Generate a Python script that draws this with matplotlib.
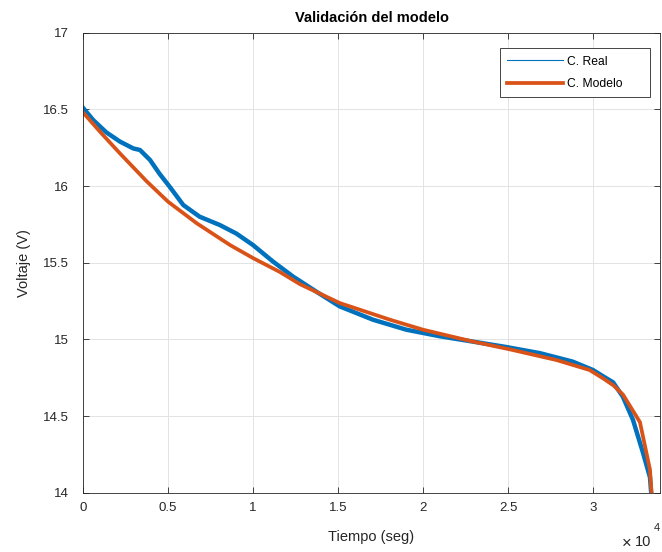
import matplotlib

matplotlib.use("Agg")

import matplotlib.pyplot as plt
from matplotlib.lines import Line2D

plt.rcParams["font.family"] = ["Liberation Sans", "DejaVu Sans"]

# tiempo (seg) y voltaje (V)
t_real = [0, 600, 1370, 2170, 2960, 3350, 3940, 4500, 5100, 5900, 6860,
          8040, 9020, 10000, 11180, 12350, 13740, 15100, 17060, 19020,
          21000, 22960, 24900, 26880, 28800, 30000, 30800, 31180, 31760,
          32350, 32940, 33350, 33420]
v_real = [16.51, 16.43, 16.35, 16.29, 16.245, 16.235, 16.17, 16.08, 15.995,
          15.876, 15.80, 15.746, 15.69, 15.615, 15.507, 15.41, 15.31, 15.215,
          15.128, 15.063, 15.02, 14.985, 14.95, 14.91, 14.855, 14.80, 14.745,
          14.72, 14.625, 14.475, 14.26, 14.10, 14.0]

t_modelo = [0, 1000, 2170, 3750, 5000, 6690, 8650, 10020, 11570, 12760,
            15100, 18060, 20000, 22960, 25100, 27860, 29800, 30600, 31200,
            31760, 32760, 33350, 33440]
v_modelo = [16.48, 16.354, 16.213, 16.03, 15.898, 15.757, 15.615, 15.529,
            15.44, 15.36, 15.237, 15.128, 15.063, 14.985, 14.935, 14.865,
            14.80, 14.745, 14.70, 14.64, 14.46, 14.15, 14.0]

xtick_vals = [0, 5000, 10000, 15000, 20000, 25000, 30000]
xtick_labels = ["0", "0.5", "1", "1.5", "2", "2.5", "3"]
ytick_vals = [14, 14.5, 15, 15.5, 16, 16.5, 17]
ytick_labels = ["14", "14.5", "15", "15.5", "16", "16.5", "17"]

blue = "#0072BD"
orange = "#D95319"
dark = "#262626"

fig = plt.figure(figsize=(6.62, 5.52), dpi=100)
ax = fig.add_axes([0.1254, 0.1074, 0.8716, 0.8334])

ax.plot(t_real, v_real, color=blue, linewidth=3.2)
ax.plot(t_modelo, v_modelo, color=orange, linewidth=2.7)

ax.set_xlim(0, 33940)
ax.set_ylim(14, 17)
ax.set_xticks(xtick_vals)
ax.set_xticklabels(xtick_labels)
ax.set_yticks(ytick_vals)
ax.set_yticklabels(ytick_labels)

ax.tick_params(direction="in", length=4, width=0.6, colors=dark,
               labelsize=9.5, top=True, right=True)
ax.tick_params(axis="x", pad=7)
ax.tick_params(axis="y", pad=10)
ax.grid(True, color="#e3e3e3", linewidth=0.7)
for spine in ax.spines.values():
    spine.set_color(dark)
    spine.set_linewidth(0.6)

ax.set_title("Validación del modelo", fontsize=10.5, fontweight="bold", pad=8)
ax.set_xlabel("Tiempo (seg)", fontsize=10.5, labelpad=11, color=dark)
ax.set_ylabel("Voltaje (V)", fontsize=10.5, labelpad=9, color=dark)

fig.text(622 / 662, 1 - 548 / 552, "×", fontsize=12, ha="left",
         va="baseline", color=dark)
fig.text(635 / 662, 1 - 546 / 552, "10", fontsize=10.5, ha="left",
         va="baseline", color=dark)
fig.text(654 / 662, 1 - 531 / 552, "4", fontsize=8, ha="left",
         va="baseline", color=dark)

handles = [
    Line2D([], [], color=blue, linewidth=0.8),
    Line2D([], [], color=orange, linewidth=2.7),
]
leg = ax.legend(handles, ["C. Real      ", "C. Modelo      "],
                loc="upper right", bbox_to_anchor=(0.9827, 0.966),
                borderaxespad=0, fontsize=8.7, handlelength=4.6,
                handletextpad=0.36, fancybox=False, framealpha=1,
                edgecolor=dark, borderpad=0.6, labelspacing=0.85)
leg.get_frame().set_linewidth(0.6)

fig.savefig("out.png", dpi=100)
plt.close(fig)
